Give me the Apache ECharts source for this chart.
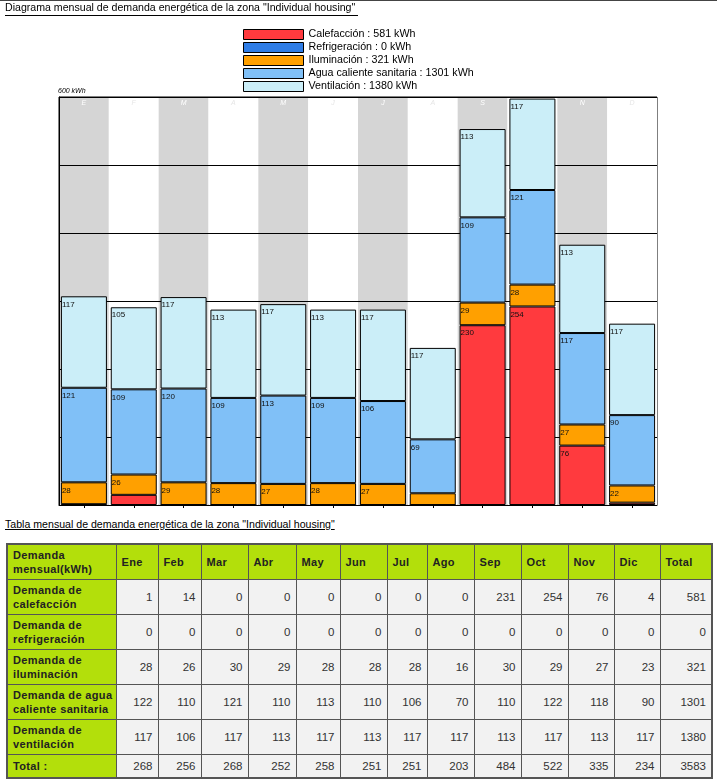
<!DOCTYPE html>
<html>
<head>
<meta charset="utf-8">
<script src="https://cdn.jsdelivr.net/npm/echarts@6/dist/echarts.min.js"></script>
<style>
  html, body { margin: 0; padding: 0; background: #fff; }
  body { width: 717px; height: 784px; position: relative; overflow: hidden; font-family: "Liberation Sans", Arial, sans-serif; }
  #topline { position: absolute; left: 0; top: 0; width: 717px; height: 1px; background: #444; }
  #chart { position: absolute; left: 0; top: 0; width: 717px; height: 515px; }
  #ttitle { position: absolute; left: 5px; top: 518px; font-size: 10.6px; color: #000; text-decoration: underline; white-space: nowrap; }
  #tbl { position: absolute; left: 6px; top: 543px; border-collapse: collapse; table-layout: fixed; border: 2px solid #555; font-size: 11px; color: #222; }
  #tbl td { border: 1px solid #555; padding: 0 5px 0 5px; line-height: 14px; vertical-align: middle; overflow: hidden; }
  #tbl td.h { background: #b3df0b; font-weight: bold; text-align: left; letter-spacing: 0.35px; padding: 0 1px 0 5px; }
  #tbl td.n { background: #f2f2f2; text-align: right; color: #333; font-size: 11.5px; }
  #tbl tr.hdr td { height: 34px; }
  #tbl tr.row td { height: 34px; }
  #tbl tr.tot td { height: 22px; }
</style>
</head>
<body>
<div id="chart"></div>
<div id="topline"></div>
<div id="ttitle">Tabla mensual de demanda energética de la zona "Individual housing"</div>
<table id="tbl"></table>
<script>
// ---- chart data (values as labelled in the diagram) ----
var months = ['Ene','Feb','Mar','Abr','May','Jun','Jul','Ago','Sep','Oct','Nov','Dic'];
var monthLetters = ['E','F','M','A','M','J','J','A','S','O','N','D'];
var seriesNames = ['Calefacción','Refrigeración','Iluminación','Agua caliente sanitaria','Ventilación'];
var seriesTotals = [581, 0, 321, 1301, 1380];
var calefaccion = [1, 13, 0, 0, 0, 0, 0, 0, 230, 254, 76, 3];
var refrigeracion = [0, 0, 0, 0, 0, 0, 0, 0, 0, 0, 0, 0];
var iluminacion = [28, 26, 29, 28, 27, 28, 27, 15, 29, 28, 27, 22];
var aguaCaliente = [121, 109, 120, 109, 113, 109, 106, 69, 109, 121, 117, 90];
var ventilacion = [117, 105, 117, 113, 117, 113, 117, 117, 113, 117, 113, 117];
var axisMax = 522;
var axisTopLabel = '600 kWh';

// ---- table data ----
var tableHeader = ['Demanda mensual(kWh)','Ene','Feb','Mar','Abr','May','Jun','Jul','Ago','Sep','Oct','Nov','Dic','Total'];
var tableRowNames = ['Demanda de calefacción','Demanda de refrigeración','Demanda de iluminación','Demanda de agua caliente sanitaria','Demanda de ventilación','Total :'];
var tCalef = [1, 14, 0, 0, 0, 0, 0, 0, 231, 254, 76, 4, 581];
var tRefrig = [0, 0, 0, 0, 0, 0, 0, 0, 0, 0, 0, 0, 0];
var tIlum = [28, 26, 30, 29, 28, 28, 28, 16, 30, 29, 27, 23, 321];
var tAgua = [122, 110, 121, 110, 113, 110, 106, 70, 110, 122, 118, 90, 1301];
var tVent = [117, 106, 117, 113, 117, 113, 117, 117, 113, 117, 113, 117, 1380];
var tTotal = [268, 256, 268, 252, 258, 251, 251, 203, 484, 522, 335, 234, 3583];
var colWidths = [109, 42, 43, 47, 48, 44, 47, 40, 47, 47, 47, 46, 46, 52];

// build table
(function () {
  var tbl = document.getElementById('tbl');
  var html = '<colgroup>';
  colWidths.forEach(function (w) { html += '<col style="width:' + w + 'px">'; });
  html += '</colgroup>';
  html += '<tr class="hdr">';
  tableHeader.forEach(function (h) { html += '<td class="h">' + h + '</td>'; });
  html += '</tr>';
  var rows = [tCalef, tRefrig, tIlum, tAgua, tVent, tTotal];
  rows.forEach(function (r, i) {
    html += '<tr class="' + (i === rows.length - 1 ? 'tot' : 'row') + '"><td class="h">' + tableRowNames[i] + '</td>';
    r.forEach(function (v) { html += '<td class="n">' + v + '</td>'; });
    html += '</tr>';
  });
  tbl.innerHTML = html;
})();

// ---- chart ----
var colors = ['#ff3a3e', '#2f7de6', '#ffa000', '#80c0f7', '#cbeef8'];
var dataSets = [calefaccion, refrigeracion, iluminacion, aguaCaliente, ventilacion];
var chart = echarts.init(document.getElementById('chart'), null, { renderer: 'canvas' });

var series = seriesNames.map(function (name, i) {
  return {
    name: name,
    type: 'bar',
    stack: 'total',
    barWidth: 46,
    z: 5,
    data: dataSets[i],
    itemStyle: { color: colors[i], borderColor: '#000', borderWidth: i === 1 ? 0 : 1 },
    emphasis: { disabled: true },
    label: {
      show: true,
      position: [1, 4],
      align: 'left',
      verticalAlign: 'top',
      fontSize: 8,
      fontFamily: 'Liberation Sans, Arial, sans-serif',
      color: '#111',
      formatter: function (p) { return p.value >= 20 ? String(p.value) : ''; }
    }
  };
});

var option = {
  animation: false,
  textStyle: { fontFamily: 'Liberation Sans, Arial, sans-serif' },
  title: {
    text: 'Diagrama mensual de demanda energética de la zona "Individual housing"',
    left: 5, top: 3, padding: 0,
    textStyle: { fontSize: 10.6, fontWeight: 'normal', color: '#000', fontFamily: 'Liberation Sans, Arial, sans-serif' }
  },
  graphic: [
    { type: 'line', shape: { x1: 5, y1: 15.5, x2: 358, y2: 15.5 }, style: { stroke: '#000', lineWidth: 1 } }
  ],
  legend: {
    orient: 'vertical',
    left: 243, top: 29, padding: 0,
    itemWidth: 60, itemHeight: 10, itemGap: 2,
    icon: 'rect',
    selectedMode: false,
    itemStyle: { borderColor: '#000', borderWidth: 1 },
    textStyle: { fontSize: 10.7, lineHeight: 10, color: '#000', fontFamily: 'Liberation Sans, Arial, sans-serif' },
    formatter: function (name) {
      var i = seriesNames.indexOf(name);
      return name + ' : ' + seriesTotals[i] + ' kWh';
    },
    data: seriesNames
  },
  grid: { left: 59, right: 60, top: 97, bottom: 10, show: true, borderColor: '#000', borderWidth: 1, backgroundColor: 'transparent' },
  xAxis: [
    {
      type: 'category',
      data: months,
      position: 'bottom',
      z: 0,
      axisLine: { show: true, lineStyle: { color: '#000', width: 1 } },
      axisTick: { show: true, alignWithLabel: true, length: 3, lineStyle: { color: '#000' } },
      axisLabel: { show: false },
      splitArea: { show: true, areaStyle: { color: ['#d5d5d5', '#ffffff'] } },
      splitLine: { show: false }
    },
    {
      type: 'category',
      data: monthLetters,
      position: 'top',
      z: 1,
      axisLine: { show: false },
      axisTick: { show: false },
      axisLabel: {
        show: true, inside: true, margin: 3, fontSize: 7, fontStyle: 'italic',
        color: function (v, idx) { return idx % 2 === 0 ? '#ffffff' : '#e6e6e6'; }
      },
      splitLine: { show: false }
    }
  ],
  yAxis: {
    type: 'value',
    z: 2,
    min: 0, max: axisMax, interval: axisMax / 6,
    name: axisTopLabel,
    nameLocation: 'end',
    nameGap: 2,
    nameTextStyle: { fontSize: 7, fontStyle: 'italic', color: '#000', align: 'left', padding: [0, 0, 0, -1] },
    axisLine: { show: true, lineStyle: { color: '#000' } },
    axisTick: { show: false },
    axisLabel: { show: false },
    splitLine: { show: true, lineStyle: { color: '#000', width: 1 } }
  },
  series: series
};
chart.setOption(option);
</script>
</body>
</html>
